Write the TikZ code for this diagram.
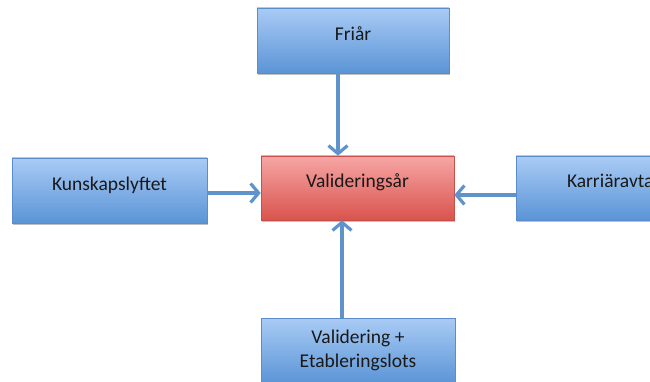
\documentclass[tikz,border=0pt]{standalone}
\usepackage{fontspec}
\setmainfont{Carlito}
\usetikzlibrary{arrows.meta,shadows}
\definecolor{bluetop}{HTML}{A9CBF5}
\definecolor{bluebot}{HTML}{5A94D6}
\definecolor{blueline}{HTML}{5B8CCB}
\definecolor{redtop}{HTML}{F6A6A5}
\definecolor{redbot}{HTML}{D9534D}
\definecolor{redline}{HTML}{C7504B}
\definecolor{arrowcol}{HTML}{5E93CB}
\tikzset{
  boxbase/.style={rectangle, inner sep=0pt, align=center, text=black!90,
    font=\fontsize{19.5}{24}\selectfont, line width=0.6pt,
    drop shadow={shadow xshift=1pt, shadow yshift=-2pt, fill=black, opacity=0.25},
    text height=14pt, text depth=14pt},
  bluebox/.style={boxbase, draw=blueline, top color=bluetop, bottom color=bluebot},
  redbox/.style={boxbase, draw=redline, top color=redtop, bottom color=redbot},
  conn/.style={draw=arrowcol, line width=3.2pt, -{Straight Barb[length=8pt,width=19pt,line width=3.2pt]}}
}
\begin{document}
\begin{tikzpicture}[x=1pt,y=-1pt]
\useasboundingbox (0,0) rectangle (650,382);
\clip (0,0) rectangle (650,382);
\node[bluebox, minimum width=192pt, minimum height=65pt] (fri) at (353,40.5) {Friår};
\node[bluebox, minimum width=195pt, minimum height=65pt] (kun) at (109.5,190.5) {Kunskapslyftet};
\node[redbox, minimum width=193pt, minimum height=64pt] (val) at (357.5,188) {Valideringsår};
\node[bluebox, minimum width=193pt, minimum height=64pt] (kar) at (612.5,188) {Karriäravtal};
\node[bluebox, minimum width=194pt, minimum height=66pt, text height=0pt, text depth=0pt] (bot) at (358,351) {};
\node[font=\fontsize{19.5}{24}\selectfont, text=black!90, align=center, anchor=base] (botlabel) at (358,367) {Validering +\\Etableringslots};
\draw[conn] ([xshift=-15pt]fri.south) -- ([xshift=-19.5pt]val.north);
\draw[conn] ([yshift=-2.5pt]kun.east) -- ([yshift=-5pt]val.west);
\draw[conn] ([yshift=-7pt]kar.west) -- ([yshift=-7pt]val.east);
\draw[conn] ([xshift=-16pt]bot.north) -- ([xshift=-15.5pt]val.south);
\end{tikzpicture}
\end{document}
